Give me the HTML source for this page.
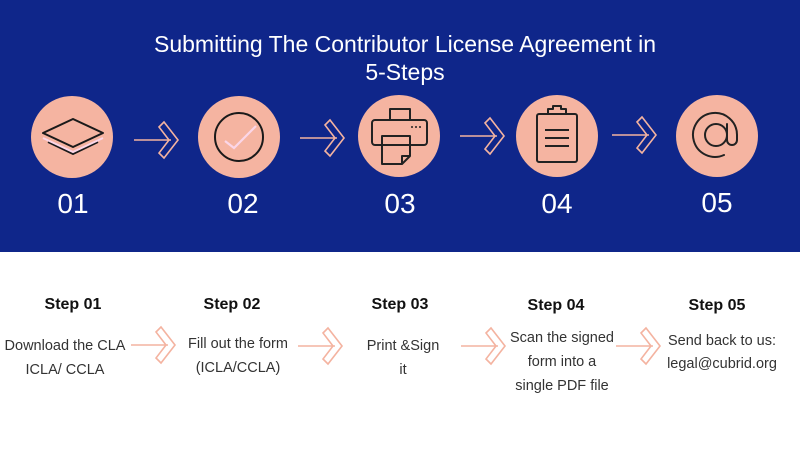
<!DOCTYPE html>
<html><head><meta charset="utf-8"><style>
body{margin:0;width:800px;height:450px;overflow:hidden;background:#fff;font-family:"Liberation Sans",sans-serif}
</style></head><body>
<svg width="800" height="450" viewBox="0 0 800 450" xmlns="http://www.w3.org/2000/svg">
<defs>
<g id="arr" fill="none" stroke="#f4b3a0" stroke-width="1.6" stroke-linejoin="miter">
<line x1="-41" y1="0" x2="-4" y2="0"/>
<polygon points="-16,-13 -11,-18 3,0 -11,18 -16,13 -6,0"/>
</g>
</defs>
<rect x="0" y="0" width="800" height="252" fill="#0f268a"/>
<g fill="#fff" font-size="23" text-anchor="middle">
<text x="405" y="52">Submitting The Contributor License Agreement in</text>
<text x="405" y="80">5-Steps</text>
</g>
<g fill="#f5b4a1">
<circle cx="72" cy="137" r="41"/>
<circle cx="239" cy="137" r="41"/>
<circle cx="399" cy="136" r="41"/>
<circle cx="557" cy="136" r="41"/>
<circle cx="717" cy="136" r="41"/>
</g>
<g fill="none" stroke="#1a1a1a" stroke-width="2" stroke-linejoin="round">
<polygon points="73,119 103,133 73,147 43,133"/>
<polyline points="48,142 73,154 98,142"/>
</g>
<polyline points="43,138 73,152 103,138" fill="none" stroke="#fbd6e8" stroke-width="2"/>
<circle cx="239" cy="137" r="24" fill="none" stroke="#1a1a1a" stroke-width="2"/>
<polyline points="225,141 234,148 256,126" fill="none" stroke="#fbd6e8" stroke-width="2.2"/>
<g fill="none" stroke="#222" stroke-width="2" stroke-linejoin="round">
<rect x="390" y="109" width="20" height="11"/>
<rect x="372" y="120" width="55" height="25" rx="3"/>
<path d="M382 145 V164 H402 L410 156 V145"/>
<rect x="382" y="136" width="28" height="9" fill="#f5b4a1"/>
<path d="M402 164 V156 H410"/>
</g>
<g fill="#222"><circle cx="412" cy="127" r="1"/><circle cx="416" cy="127" r="1"/><circle cx="420" cy="127" r="1"/></g>
<g fill="none" stroke="#222" stroke-width="2" stroke-linejoin="round">
<rect x="537" y="114" width="40" height="48" rx="2"/>
<path d="M548 114 V109 H553 V106 H561 V109 H566 V114 Z" fill="#f5b4a1"/>
<line x1="545" y1="130" x2="569" y2="130"/>
<line x1="545" y1="138" x2="569" y2="138"/>
<line x1="545" y1="146" x2="569" y2="146"/>
</g>
<g fill="none" stroke="#222" stroke-width="2" stroke-linecap="round">
<circle cx="716" cy="135" r="11"/>
<path d="M727 124 V140 A5 5 0 0 0 737 140 V135 A22 22 0 1 0 724 155"/>
</g>
<g fill="#fff" font-size="28" text-anchor="middle">
<text x="73" y="213">01</text>
<text x="243" y="213">02</text>
<text x="400" y="213">03</text>
<text x="557" y="213">04</text>
<text x="717" y="212">05</text>
</g>
<use href="#arr" x="175" y="140"/>
<use href="#arr" x="341" y="138"/>
<use href="#arr" x="501" y="136"/>
<use href="#arr" x="653" y="135"/>
<use href="#arr" x="172" y="345"/>
<use href="#arr" x="339" y="346"/>
<use href="#arr" x="502" y="346"/>
<use href="#arr" x="657" y="346"/>
<g fill="#111" font-size="16" font-weight="bold" text-anchor="middle">
<text x="73" y="309">Step 01</text>
<text x="232" y="309">Step 02</text>
<text x="400" y="309">Step 03</text>
<text x="556" y="310">Step 04</text>
<text x="717" y="310">Step 05</text>
</g>
<g fill="#333" font-size="14.5" text-anchor="middle">
<text x="65" y="350">Download the CLA</text>
<text x="65" y="374">ICLA/ CCLA</text>
<text x="238" y="348">Fill out the form</text>
<text x="238" y="372">(ICLA/CCLA)</text>
<text x="403" y="350">Print &amp;Sign</text>
<text x="403" y="374">it</text>
<text x="562" y="342">Scan the signed</text>
<text x="562" y="366">form into a</text>
<text x="562" y="390">single PDF file</text>
<text x="722" y="345">Send back to us:</text>
<text x="722" y="368">legal@cubrid.org</text>
</g>
</svg>
</body></html>
